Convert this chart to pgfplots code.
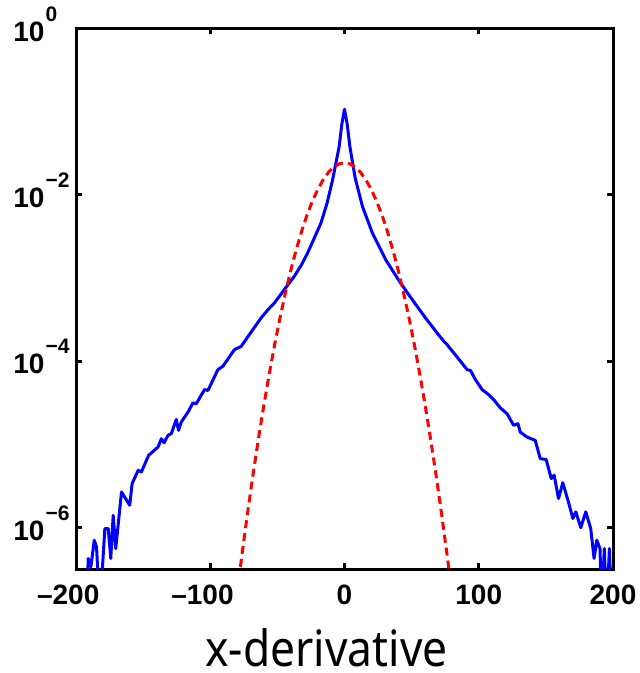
\documentclass[border=0pt]{standalone}
\usepackage{fontspec}
\setmainfont{Liberation Sans}
\newfontfamily\labfont{Noto Sans}
\usepackage{graphicx}
\usepackage{pgfplots}
\pgfplotsset{compat=1.18}
\newcommand{\ylab}[1]{\textbf{10}\hspace{0.5pt}\raisebox{10pt}{\fontsize{10.5}{11}\selectfont\bfseries #1}}
\begin{document}
\begin{tikzpicture}
\path[use as bounding box] (-38pt,-51.85pt) rectangle (281.5pt,284.65pt);
\begin{axis}[
  at={(0,0)}, anchor=south west, scale only axis,
  width=268.5pt, height=270.4pt,
  ymode=log, xmin=-200, xmax=200, ymin=3.1623e-7, ymax=1,
  xtick={-200,-100,0,100,200},
  xticklabels={\llap{\textendash}200,\llap{\textendash}100,0,100,200},
  ytick={1e-6,1e-4,1e-2,1},
  yticklabels={\ylab{−6},\ylab{−4},\ylab{−2},\ylab{0}},
  yminorticks=false,
  tick align=inside, major tick length=3pt,
  tick style={line width=1.5pt, black},
  axis line style={line width=1.5pt},
  ticklabel style={font=\fontsize{14}{16}\selectfont\bfseries},
  xticklabel style={anchor=north, inner sep=0pt, yshift=-7.85pt},
  yticklabel style={anchor=base west, inner sep=0pt, xshift=-31.5pt, yshift=-6.3pt},
  xlabel={\scalebox{0.887}[1]{\labfont\fontsize{25}{28}\selectfont x-derivative}},
  xlabel style={at={(axis description cs:0.5,0)}, anchor=base, inner sep=0pt, yshift=-48.6pt, xshift=-9pt},
]
\addplot[blue, line width=1.5pt, line join=round] coordinates {
(-192.1,1e-7) (-190.9,4.27e-7) (-188.9,3.39e-7) (-186.4,7.08e-7) (-184.7,5.89e-7)
(-182.3,1e-7) (-178.5,9.77e-7) (-176,9.77e-7) (-174.1,4.27e-7) (-172.3,1.41e-6)
(-170.4,5.62e-7) (-166.1,2.69e-6) (-160,1.86e-6) (-158.2,3.39e-6) (-153.7,4.90e-6)
(-151.3,4.68e-6) (-145.9,7.41e-6) (-138.9,9.33e-6) (-136.4,1.175e-5) (-134.4,1.05e-5)
(-131.5,1.29e-5) (-129,1.35e-5) (-125.3,2.00e-5) (-123.6,1.48e-5) (-121.6,1.86e-5)
(-116.6,2.45e-5) (-112.9,3.16e-5) (-110.4,3.09e-5) (-104.3,4.57e-5) (-101.7,4.47e-5)
(-94.3,7.94e-5) (-90.6,8.71e-5) (-82,1.38e-4) (-77,1.51e-4) (-70.9,2.09e-4)
(-62.2,3.31e-4) (-57,4.17e-4) (-52.3,5.01e-4) (-44.9,7.24e-4) (-37.4,1.05e-3)
(-32,1.45e-3) (-27.5,2.00e-3) (-22,3.16e-3) (-17.6,4.57e-3) (-13,7.94e-3)
(-8.9,1.51e-2) (-4,3.80e-2) (-2,7.08e-2) (0,0.107) (2,7.08e-2) (4,3.80e-2)
(8,1.58e-2) (13.4,7.24e-3) (20.8,3.47e-3) (30.7,1.66e-3) (41.8,8.71e-4)
(50.5,5.50e-4) (60.4,3.31e-4) (64.3,2.75e-4) (68,2.29e-4) (74,1.74e-4)
(76.5,1.58e-4) (81.4,1.26e-4) (86.4,1.00e-4) (91.3,7.94e-5) (93.8,7.76e-5)
(97.5,6.03e-5) (102.5,4.57e-5) (107.4,3.98e-5) (111.1,3.47e-5) (116.1,2.75e-5)
(121.1,2.34e-5) (126,1.70e-5) (129.2,1.78e-5) (130.9,1.41e-5) (135.9,1.23e-5)
(142.1,1.12e-5) (145.8,6.76e-6) (150.2,6.61e-6) (154,3.89e-6) (156.2,4.27e-6)
(159.4,2.24e-6) (162.6,3.47e-6) (166.8,2.04e-6) (170.1,1.29e-6) (172.3,1.55e-6)
(176,1.00e-6) (179.7,1.55e-6) (183.4,9.77e-7) (185.9,4.27e-7) (187.9,7.08e-7)
(190.3,5.62e-7) (191.6,1e-7) (193.5,5.62e-7) (195.3,1e-7) (197.3,5.62e-7) (199,1e-7)
};
\addplot[red, line width=1.5pt, dash pattern=on 4pt off 2.5pt] coordinates {
(-80,1.660e-7) (-76,5.284e-7) (-72,1.589e-6) (-68,4.498e-6) (-64,1.199e-5)
(-60,3.020e-5) (-56,7.145e-5) (-52,1.596e-4) (-48,3.357e-4) (-44,6.653e-4)
(-40,1.242e-3) (-36,2.188e-3) (-32,3.622e-3) (-28,5.662e-3) (-24,8.337e-3)
(-20,1.156e-2) (-16,1.510e-2) (-12,1.862e-2) (-8,2.158e-2) (-4,2.360e-2)
(0,2.432e-2)
(4,2.360e-2) (8,2.158e-2) (12,1.862e-2) (16,1.510e-2) (20,1.156e-2)
(24,8.337e-3) (28,5.662e-3) (32,3.622e-3) (36,2.188e-3) (40,1.242e-3)
(44,6.653e-4) (48,3.357e-4) (52,1.596e-4) (56,7.145e-5) (60,3.020e-5)
(64,1.199e-5) (68,4.498e-6) (72,1.589e-6) (76,5.284e-7) (80,1.660e-7)
};
\end{axis}
\end{tikzpicture}
\end{document}
